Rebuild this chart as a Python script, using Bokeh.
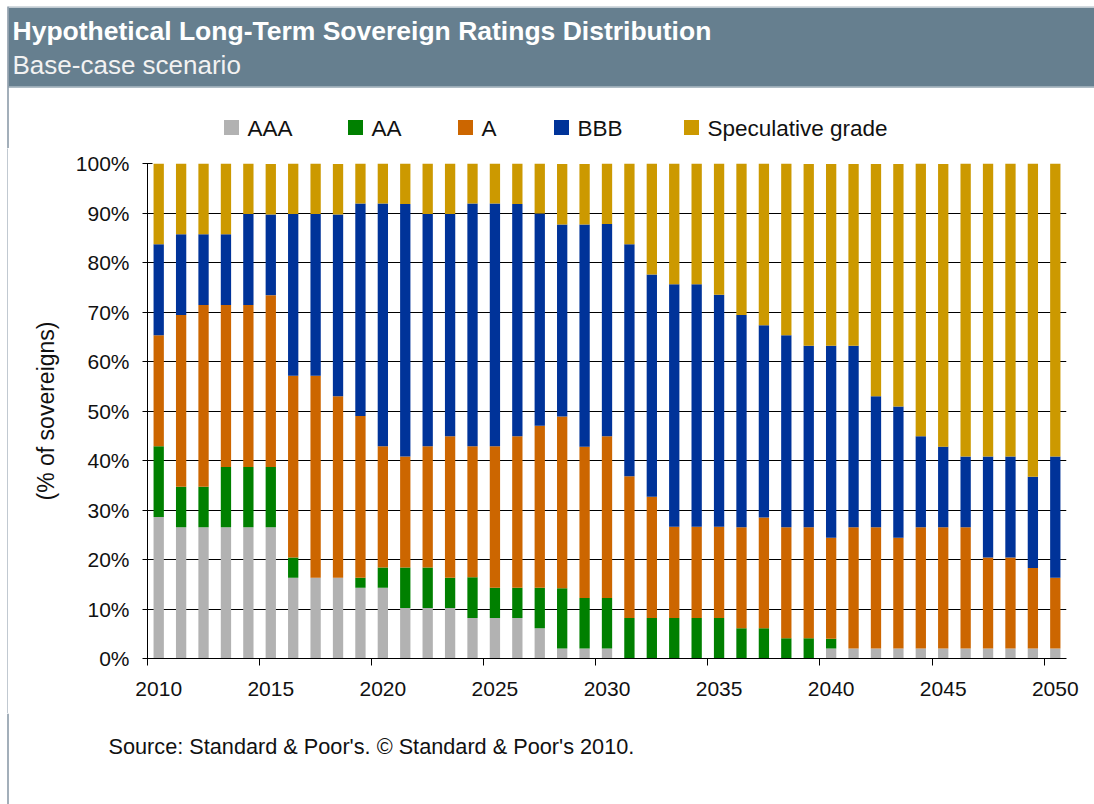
from bokeh.plotting import figure
from bokeh.layouts import column, row
from bokeh.models import ColumnDataSource, FixedTicker, Range1d
from bokeh.core.properties import value
from bokeh.embed import file_html
from bokeh.resources import INLINE

FONT = "Liberation Sans"

# ---------------- data (percent of sovereigns) ----------------
years = list(range(2010, 2051))
aaa = [28.6, 26.5, 26.5, 26.5, 26.5, 26.5, 16.3, 16.3, 16.3, 14.3,
       14.3, 10.2, 10.2, 10.2, 8.2, 8.2, 8.2, 6.1, 2.0, 2.0,
       2.0, 0, 0, 0, 0, 0, 0, 0, 0, 0,
       2.0, 2.0, 2.0, 2.0, 2.0, 2.0, 2.0, 2.0, 2.0, 2.0, 2.0]
aa = [14.3, 8.2, 8.2, 12.2, 12.2, 12.2, 4.1, 0, 0, 2.0,
      4.1, 8.2, 8.2, 6.1, 8.2, 6.1, 6.1, 8.2, 12.2, 10.2,
      10.2, 8.2, 8.2, 8.2, 8.2, 8.2, 6.1, 6.1, 4.1, 4.1,
      2.0, 0, 0, 0, 0, 0, 0, 0, 0, 0, 0]
a_grade = [22.4, 34.7, 36.7, 32.7, 32.7, 34.7, 36.7, 40.8, 36.7, 32.7,
           24.5, 22.4, 24.5, 28.6, 26.5, 28.6, 30.6, 32.7, 34.7, 30.6,
           32.7, 28.6, 24.5, 18.4, 18.4, 18.4, 20.4, 22.4, 22.4, 22.4,
           20.4, 24.5, 24.5, 22.4, 24.5, 24.5, 24.5, 18.4, 18.4, 16.3, 14.3]
bbb = [18.4, 16.3, 14.3, 14.3, 18.4, 16.3, 32.7, 32.7, 36.7, 42.9,
       49.0, 51.0, 46.9, 44.9, 49.0, 49.0, 46.9, 42.9, 38.8, 44.9,
       42.9, 46.9, 44.9, 49.0, 49.0, 46.9, 42.9, 38.8, 38.8, 36.7,
       38.8, 36.7, 26.5, 26.5, 18.4, 16.3, 14.3, 20.4, 20.4, 18.4, 24.5]
spec = [16.3, 14.3, 14.3, 14.3, 10.2, 10.2, 10.2, 10.2, 10.2, 8.2,
        8.2, 8.2, 10.2, 10.2, 8.2, 8.2, 8.2, 10.2, 12.2, 12.2,
        12.2, 16.3, 22.4, 24.5, 24.5, 26.5, 30.6, 32.7, 34.7, 36.7,
        36.7, 36.7, 46.9, 49.0, 55.1, 57.1, 59.2, 59.2, 59.2, 63.3, 59.2]

series_names = ["AAA", "AA", "A", "BBB", "Speculative grade"]
series_colors = ["#b2b2b2", "#008000", "#cc6600", "#003399", "#cc9900"]

x_tick_values = [2010, 2015, 2020, 2025, 2030, 2035, 2040, 2045, 2050]
x_tick_labels = ["2010", "2015", "2020", "2025", "2030", "2035", "2040", "2045", "2050"]
y_tick_values = [0, 10, 20, 30, 40, 50, 60, 70, 80, 90, 100]
y_tick_labels = ["0%", "10%", "20%", "30%", "40%", "50%", "60%", "70%", "80%", "90%", "100%"]

title_text = "Hypothetical Long-Term Sovereign Ratings Distribution"
subtitle_text = "Base-case scenario"
y_title = "(% of sovereigns)"
source_text = "Source: Standard & Poor's. \u00a9 Standard & Poor's 2010."

W = 1094
BG = "#ffffff"
EDGE = "#8494a3"


def blank(w, h, fill=BG):
    f = figure(width=w, height=h, x_range=Range1d(0, w), y_range=Range1d(h, 0),
               output_backend="svg", toolbar_location=None,
               x_axis_type=None, y_axis_type=None, min_border=0, frame_align=False)
    f.outline_line_color = None
    f.grid.visible = False
    f.background_fill_color = fill
    f.border_fill_color = fill
    return f


# ---------------- header (title band + legend) ----------------
HH = 148
head = blank(W, HH)
head.quad(left=[8], right=[W], top=[7], bottom=[87], fill_color="#667f8f", line_color=None)
head.segment(x0=[8], y0=[6.5], x1=[W], y1=[6.5], line_color="#c5ced5", line_width=1.5)
head.segment(x0=[8], y0=[86.5], x1=[W], y1=[86.5], line_color="#aebbc5", line_width=1.5)
head.segment(x0=[7.5], y0=[6], x1=[7.5], y1=[HH], line_color=EDGE, line_width=1.5)
head.text(x=[12], y=[30], text=[title_text], text_baseline="middle", text_align="left",
          text_font=value(FONT), text_font_size="26.5px", text_font_style="bold", text_color="white")
head.text(x=[12], y=[64], text=[subtitle_text], text_baseline="middle", text_align="left",
          text_font=value(FONT), text_font_size="26px", text_color="#f2f2f2")

leg_sq_x = [231, 355, 465, 561, 691]
leg_y = 127
head.rect(x=leg_sq_x, y=[leg_y] * 5, width=15, height=15, fill_color=series_colors, line_color=None)
head.text(x=[v + 16 for v in leg_sq_x], y=[leg_y + 1] * 5, text=series_names, text_baseline="middle",
          text_align="left", text_font=value(FONT), text_font_size="22.5px", text_color="#111111")

# ---------------- main chart (two thin strips carry the left edge line) ----------------
MH = 565
pad_strip = blank(7, MH)
edge_strip = blank(1, MH, fill=EDGE)
LEFT = 8

main = figure(width=W - LEFT, height=MH, x_range=Range1d(2009.5, 2050.5), y_range=Range1d(0, 100),
              output_backend="svg", toolbar_location=None, frame_align=False,
              min_border_left=147 - LEFT, min_border_right=28, min_border_top=15, min_border_bottom=55)
main.outline_line_color = None
main.background_fill_color = BG
main.border_fill_color = BG

src = ColumnDataSource(dict(year=years, AAA=aaa, AA=aa, A=a_grade, BBB=bbb, SPEC=spec))
main.vbar_stack(["AAA", "AA", "A", "BBB", "SPEC"], x="year", width=0.46, source=src,
                fill_color=series_colors, line_color=None)

main.xgrid.visible = False
main.ygrid.grid_line_color = "#000000"
main.ygrid.grid_line_width = 1

xa = main.xaxis[0]
xa.ticker = FixedTicker(ticks=x_tick_values, minor_ticks=[v - 0.5 for v in x_tick_values])
xa.major_label_overrides = {v: l for v, l in zip(x_tick_values, x_tick_labels)}
xa.major_tick_in = 0
xa.major_tick_out = 0
xa.minor_tick_in = 0
xa.minor_tick_out = 7
xa.minor_tick_line_color = "#000000"
xa.axis_line_color = "#000000"
xa.major_label_standoff = 16
xa.major_label_text_font = FONT
xa.major_label_text_font_size = "21px"
xa.major_label_text_color = "#111111"

ya = main.yaxis[0]
ya.ticker = FixedTicker(ticks=y_tick_values, minor_ticks=[])
ya.major_label_overrides = {v: l for v, l in zip(y_tick_values, y_tick_labels)}
ya.major_tick_in = 5
ya.major_tick_out = 5
ya.major_tick_line_color = "#000000"
ya.axis_line_color = "#000000"
ya.major_label_standoff = 13
ya.major_label_text_font = FONT
ya.major_label_text_font_size = "21px"
ya.major_label_text_color = "#111111"
ya.axis_label = y_title
ya.axis_label_text_font = FONT
ya.axis_label_text_font_size = "23px"
ya.axis_label_text_font_style = "normal"
ya.axis_label_text_color = "#111111"
ya.axis_label_standoff = 14

# ---------------- footer ----------------
FH = 804 - HH - MH
foot = blank(W, FH)
foot.segment(x0=[7.5], y0=[0], x1=[7.5], y1=[FH], line_color=EDGE, line_width=1.5)
foot.text(x=[108], y=[33], text=[source_text], text_baseline="middle", text_align="left",
          text_font=value(FONT), text_font_size="21.7px", text_color="#111111")

layout = column(head, row(pad_strip, edge_strip, main, spacing=0), foot, spacing=0)

open("out.html", "w").write(file_html(layout, INLINE))
